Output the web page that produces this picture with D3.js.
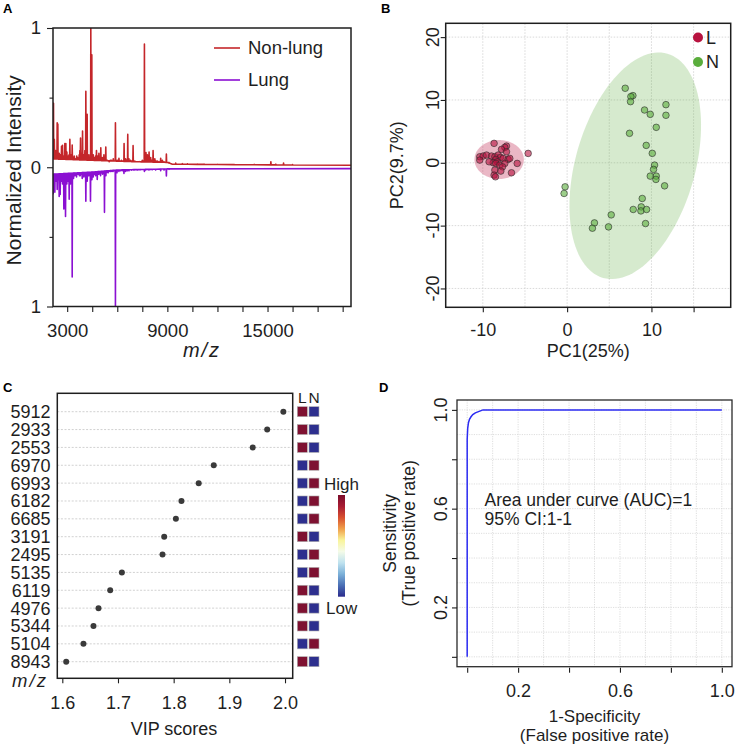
<!DOCTYPE html>
<html><head><meta charset="utf-8">
<script src="https://cdn.jsdelivr.net/npm/d3@7"></script>
<style>
body{margin:0;background:#fff;}
svg{display:block;}
</style></head><body>
<svg id="fig" width="736" height="745"></svg>
<script>
// ---------------- DATA ----------------
// Panel A: mass spectra, peaks as [m/z, normalized intensity]
const nonLungPeaks = [[2180,0.46],[2230,0.2],[2300,0.12],[2340,0.08],[2400,0.32],[2440,0.31],[2480,0.09],[2520,0.1],[2580,0.09],[2620,0.07],[2660,0.15],[2720,0.157],[2760,0.08],[2800,0.08],[2860,0.17],[2920,0.17],[2980,0.11],[3020,0.07],[3060,0.08],[3110,0.09],[3160,0.2],[3230,0.09],[3300,0.16],[3360,0.07],[3420,0.08],[3470,0.06],[3520,0.06],[3570,0.08],[3620,0.07],[3670,0.06],[3720,0.09],[3760,0.12],[3800,0.21],[3870,0.1],[3920,0.26],[3960,0.08],[4000,0.09],[4060,0.12],[4117,0.545],[4196,0.38],[4250,0.07],[4300,0.09],[4350,0.06],[4415,1.0],[4475,0.807],[4520,0.07],[4560,0.09],[4610,0.06],[4650,0.07],[4700,0.08],[4754,0.12],[4790,0.07],[4830,0.08],[4900,0.1],[4950,0.06],[5013,0.14],[5060,0.06],[5100,0.07],[5150,0.06],[5200,0.09],[5260,0.07],[5312,0.145],[5360,0.05],[5400,0.05],[5460,0.045],[5520,0.04],[5580,0.05],[5650,0.05],[5700,0.045],[5760,0.06],[5830,0.045],[5890,0.32],[5940,0.045],[5990,0.05],[6050,0.05],[6100,0.065],[6180,0.045],[6250,0.05],[6330,0.045],[6408,0.17],[6460,0.05],[6500,0.06],[6560,0.05],[6628,0.236],[6700,0.06],[6750,0.045],[6800,0.05],[6870,0.045],[6947,0.155],[7000,0.045],[7050,0.045],[7120,0.04],[7200,0.04],[7280,0.04],[7350,0.04],[7430,0.04],[7500,0.05],[7560,0.045],[7626,0.884],[7680,0.06],[7720,0.105],[7760,0.07],[7805,0.09],[7850,0.06],[7905,0.11],[7950,0.06],[8000,0.07],[8070,0.05],[8145,0.12],[8200,0.05],[8250,0.06],[8320,0.045],[8400,0.045],[8500,0.04],[8600,0.065],[8700,0.05],[8800,0.04],[8941,0.095],[9100,0.035],[9500,0.03],[9900,0.026],[10200,0.025],[10800,0.023],[11200,0.022],[12000,0.021],[13000,0.02],[14200,0.02],[15200,0.04],[15500,0.022],[15960,0.03],[16500,0.02]];
const nonLungBase = [[2150,0.06],[4500,0.05],[7000,0.04],[9000,0.035],[9300,0.022],[14000,0.018],[20000,0.014]];
const lungPeaks = [[2160,0.19],[2200,0.12],[2260,0.18],[2330,0.1],[2400,0.16],[2460,0.09],[2520,0.21],[2580,0.196],[2650,0.1],[2720,0.12],[2760,0.07],[2800,0.30],[2860,0.15],[2900,0.353],[2980,0.12],[3020,0.08],[3060,0.1],[3120,0.23],[3200,0.12],[3250,0.08],[3300,0.788],[3380,0.08],[3420,0.06],[3460,0.06],[3510,0.05],[3560,0.07],[3620,0.05],[3680,0.05],[3730,0.06],[3780,0.06],[3840,0.05],[3900,0.08],[3950,0.06],[4000,0.07],[4060,0.06],[4117,0.244],[4160,0.07],[4200,0.1],[4250,0.06],[4300,0.06],[4350,0.05],[4395,0.244],[4440,0.06],[4480,0.09],[4520,0.05],[4560,0.07],[4620,0.05],[4700,0.06],[4750,0.05],[4800,0.087],[4850,0.05],[4900,0.05],[4950,0.04],[5000,0.06],[5060,0.04],[5120,0.05],[5180,0.04],[5233,0.324],[5280,0.04],[5320,0.06],[5380,0.035],[5450,0.04],[5520,0.03],[5600,0.03],[5680,0.03],[5750,0.03],[5820,0.025],[5890,1.0],[5980,0.04],[6040,0.025],[6100,0.03],[6200,0.025],[6300,0.025],[6400,0.045],[6500,0.03],[6600,0.025],[6700,0.025],[6850,0.02],[7000,0.02],[7200,0.02],[7400,0.018],[7626,0.03],[7700,0.02],[7900,0.02],[8100,0.018],[8300,0.02],[8600,0.025],[8800,0.02],[8941,0.063],[9100,0.015]];
const lungBase = [[2150,-0.05],[4500,-0.035],[6000,-0.02],[9000,-0.012],[20000,-0.01]];
const specTicksMajor = [3000,6000,9000,12000,15000,18000];
const specTicksMinor = [4500,7500,10500,13500,16500,19500];
const specTickLabels = [3000,9000,15000];
const specSeries = ["Non-lung","Lung"];

// Panel B: PCA scores
const pcaLx = [-8.66,-7.19,-7.39,-7.78,-4.62,-10.36,-9.96,-9.56,-8.97,-8.57,-8.18,-7.9,-10.36,-8.46,-8.3,-7.59,-7.0,-6.8,-5.92,-8.77,-8.46,-7.98,-7.39,-7.66,-8.57,-7.86,-8.66,-8.5,-6.6,-9.25,-7.19];
const pcaLy = [3.09,2.66,2.45,2.13,1.49,0.96,1.07,1.23,1.07,0.96,1.23,0.86,0.43,0.54,0.16,0.7,0.54,0.7,-0.1,0.0,-0.1,-0.37,-0.1,-0.64,-1.16,-1.32,-1.96,-2.23,-1.59,0.16,1.75];
const pcaNx = [6.89,7.8,7.56,7.52,11.72,9.18,9.86,11.72,10.57,7.4,9.38,10.1,10.37,10.25,9.86,10.57,10.53,11.56,-0.24,-0.36,8.91,8.79,7.84,8.75,9.42,5.23,3.24,3.0,4.91,9.3];
const pcaNy = [11.86,10.69,10.53,9.73,9.25,8.4,7.71,7.56,5.64,4.69,2.77,1.5,-0.37,-1.05,-2.12,-2.12,-2.65,-3.67,-3.83,-4.88,-5.68,-7.02,-7.43,-7.66,-7.43,-8.29,-9.57,-10.41,-10.2,-9.67];
// confidence ellipses: center, two semi-axis vectors (data units)
const ellipseL = {c:[-8.06,0.52], u:[2.93,0], v:[0,3.1]};
const ellipseN = {c:[8.08,-0.48], u:[3.81,17.84], v:[6.81,-2.62]};
const pcaGroups = ["L","N"];
const pcaXTicks = [-10,0,10,15];
const pcaXLabels = [-10,0,10];
const pcaYTicks = [-20,-10,0,10,20];

// Panel C: VIP scores
const vipMz = ["5912","2933","2553","6970","6993","6182","6685","3191","2495","5135","6119","4976","5344","5104","8943"];
const vipScore = [1.997,1.968,1.942,1.872,1.845,1.814,1.804,1.783,1.780,1.707,1.686,1.665,1.656,1.638,1.607];
const vipL = ["H","H","H","L","L","L","L","H","L","L","H","H","H","L","H"];
const vipN = ["L","L","L","H","H","H","H","L","H","H","L","L","L","H","L"];
const vipTicks = [1.6,1.7,1.8,1.9,2.0];

// Panel D: ROC curve
const rocFpr = [0,0,0.002,0.005,0.009,0.015,0.022,0.032,0.042,0.052,0.062,1.0];
const rocTpr = [0,0.88,0.925,0.948,0.962,0.972,0.981,0.988,0.992,0.996,1.0,1.0];
const rocTicks = [0,0.2,0.4,0.6,0.8,1.0];
const rocLabels = [0.2,0.6,1.0];

// ---------------- DRAW ----------------
const FONT = "'Liberation Sans', Arial, Helvetica, sans-serif";
const INK = "#1e1e1e";
const svg = d3.select("#fig").attr("font-family", FONT);

function styleAxis(g, fs) {
  g.attr("font-family", FONT).attr("font-size", fs);
  g.select(".domain").remove();
  g.selectAll(".tick line").attr("stroke", INK).attr("stroke-width", 1.1);
  g.selectAll(".tick text").attr("fill", INK);
  return g;
}
function panelLetter(t, x, y) {
  svg.append("text").attr("x", x).attr("y", y).attr("font-size", 13).attr("font-weight", "bold").attr("fill", "#000").text(t);
}

// ===== Panel A =====
(function(){
  const P = {l:53, r:351, t:28, b:306.5};
  const x = d3.scaleLinear().domain([2150, 20000]).range([P.l, P.r]);
  const y = d3.scaleLinear().domain([-1, 1]).range([P.b, P.t]);
  const g = svg.append("g");
  g.append("clipPath").attr("id","clipA").append("rect")
    .attr("x",P.l).attr("y",P.t).attr("width",P.r-P.l).attr("height",P.b-P.t);
  function pts(peaks, knots, sign){
    const base = d3.scaleLinear().domain(knots.map(k=>k[0])).range(knots.map(k=>k[1]));
    const out = knots.map(k=>[k[0],k[1]]);
    peaks.forEach(([m,h])=>{ const b = base(m); out.push([m-14,b],[m,sign*h],[m+14,b]); });
    out.sort((a,b)=>a[0]-b[0]);
    return out;
  }
  const line = d3.line().x(d=>x(d[0])).y(d=>y(d[1]));
  const colors = {"Non-lung":"#c4262a","Lung":"#8b10d2"};
  g.append("path").attr("clip-path","url(#clipA)").attr("d", line(pts(lungPeaks, lungBase, -1)))
    .attr("fill","none").attr("stroke",colors["Lung"]).attr("stroke-width",1.6).attr("stroke-linejoin","round");
  g.append("path").attr("clip-path","url(#clipA)").attr("d", line(pts(nonLungPeaks, nonLungBase, 1)))
    .attr("fill","none").attr("stroke",colors["Non-lung"]).attr("stroke-width",1.6).attr("stroke-linejoin","round");
  g.append("rect").attr("x",P.l).attr("y",P.t).attr("width",P.r-P.l).attr("height",P.b-P.t)
    .attr("fill","none").attr("stroke",INK).attr("stroke-width",1.5);
  // axes
  styleAxis(g.append("g").attr("transform",`translate(${P.l},0)`)
    .call(d3.axisLeft(y).tickValues([-1,0,1]).tickSize(6).tickPadding(6).tickFormat(d=>Math.abs(d))), 18.5);
  styleAxis(g.append("g").attr("transform",`translate(${P.l},0)`)
    .call(d3.axisLeft(y).tickValues([-0.5,0.5]).tickSize(3.5).tickFormat("")), 18);
  styleAxis(g.append("g").attr("transform",`translate(0,${P.b})`)
    .call(d3.axisBottom(x).tickValues(specTicksMajor.concat(specTicksMinor)).tickSize(5.5).tickPadding(12)
      .tickFormat(d=>specTickLabels.includes(d)?d:"")), 18.5);
  g.append("text").attr("transform",`translate(${P.l-32},${(P.t+P.b)/2+3}) rotate(-90)`)
    .attr("text-anchor","middle").attr("font-size",21).attr("fill",INK).text("Normalized Intensity");
  g.append("text").attr("x",(P.l+P.r)/2).attr("y",357).attr("text-anchor","middle")
    .attr("font-size",20).attr("font-style","italic").attr("letter-spacing",2).attr("fill",INK).text("m/z");
  // legend
  specSeries.forEach((s,i)=>{
    const yy = 48 + i*32;
    g.append("line").attr("x1",214).attr("x2",240).attr("y1",yy).attr("y2",yy).attr("stroke",colors[s]).attr("stroke-width",1.6);
    g.append("text").attr("x",248).attr("y",yy).attr("dy","0.35em").attr("font-size",18.5).attr("fill",INK).text(s);
  });
  panelLetter("A", 3, 13);
})();

// ===== Panel B =====
(function(){
  const P = {l:445.7, r:730.7, t:23.3, b:307.3};
  const x = d3.scaleLinear().domain([-14.4, 19.4]).range([P.l, P.r]);
  const y = d3.scaleLinear().domain([-23, 22.2]).range([P.b, P.t]);
  const g = svg.append("g");
  const col = {L:"#b8123f", N:"#5aad3c"};
  // grid
  g.selectAll(".gx").data([-10,-5,0,5,10,15]).join("line")
    .attr("x1",d=>x(d)).attr("x2",d=>x(d)).attr("y1",P.t).attr("y2",P.b)
    .attr("stroke","#cfcfcf").attr("stroke-width",0.8).attr("stroke-dasharray","1.5,1.5");
  g.selectAll(".gy").data(pcaYTicks).join("line")
    .attr("x1",P.l).attr("x2",P.r).attr("y1",d=>y(d)).attr("y2",d=>y(d))
    .attr("stroke","#cfcfcf").attr("stroke-width",0.8).attr("stroke-dasharray","1.5,1.5");
  // ellipses
  function ell(e){
    const ts = d3.range(0, 361, 3).map(a=>a*Math.PI/180);
    return d3.line()(ts.map(t=>[x(e.c[0]+Math.cos(t)*e.u[0]+Math.sin(t)*e.v[0]), y(e.c[1]+Math.cos(t)*e.u[1]+Math.sin(t)*e.v[1])])) + "Z";
  }
  g.append("path").attr("d",ell(ellipseN)).attr("fill",col.N).attr("fill-opacity",0.25);
  g.append("path").attr("d",ell(ellipseL)).attr("fill",col.L).attr("fill-opacity",0.3);
  // points
  const ptsL = pcaLx.map((v,i)=>[v,pcaLy[i]]);
  const ptsN = pcaNx.map((v,i)=>[v,pcaNy[i]]);
  [[ptsN,col.N],[ptsL,col.L]].forEach(([arr,c])=>{
    g.selectAll(null).data(arr).join("circle")
      .attr("cx",d=>x(d[0])).attr("cy",d=>y(d[1])).attr("r",3.3)
      .attr("fill",c).attr("fill-opacity",0.6).attr("stroke","#2a2a2a").attr("stroke-width",0.7).attr("stroke-opacity",0.85);
  });
  g.append("rect").attr("x",P.l).attr("y",P.t).attr("width",P.r-P.l).attr("height",P.b-P.t)
    .attr("fill","none").attr("stroke",INK).attr("stroke-width",1.5);
  styleAxis(g.append("g").attr("transform",`translate(0,${P.b})`)
    .call(d3.axisBottom(x).tickValues(pcaXTicks).tickSize(5).tickPadding(11)
      .tickFormat(d=>pcaXLabels.includes(d)?d:"")), 18);
  styleAxis(g.append("g").attr("transform",`translate(${P.l},0)`)
    .call(d3.axisLeft(y).tickValues(pcaYTicks).tickSize(5).tickFormat("")), 18);
  g.selectAll(".yl").data(pcaYTicks).join("text")
    .attr("transform",d=>`translate(439,${y(d)}) rotate(-90)`).attr("text-anchor","middle")
    .attr("font-size",18).attr("fill",INK).text(d=>d);
  g.append("text").attr("transform",`translate(403,${(P.t+P.b)/2}) rotate(-90)`)
    .attr("text-anchor","middle").attr("font-size",18).attr("fill",INK).text("PC2(9.7%)");
  g.append("text").attr("x",(P.l+P.r)/2).attr("y",357).attr("text-anchor","middle")
    .attr("font-size",18).attr("fill",INK).text("PC1(25%)");
  pcaGroups.forEach((k,i)=>{
    const yy = 37.5 + i*24.5;
    g.append("circle").attr("cx",698).attr("cy",yy).attr("r",5).attr("fill",col[k]);
    g.append("text").attr("x",706).attr("y",yy).attr("dy","0.36em").attr("font-size",18).attr("fill",INK).text(k);
  });
  panelLetter("B", 381, 13);
})();

// ===== Panel C =====
(function(){
  const P = {l:57.3, r:292.7, t:393.3, b:678.3};
  const x = d3.scaleLinear().domain([1.591, 2.0138]).range([P.l, P.r]);
  const y = d3.scalePoint().domain(vipMz).range([411.7, 661.7]);
  const g = svg.append("g");
  g.selectAll(".grid").data(vipMz).join("line")
    .attr("x1",P.l).attr("x2",P.r).attr("y1",d=>y(d)).attr("y2",d=>y(d))
    .attr("stroke","#bdbdbd").attr("stroke-width",0.7).attr("stroke-dasharray","2,1.6");
  g.selectAll(".dot").data(vipMz).join("circle")
    .attr("cx",(d,i)=>x(vipScore[i])).attr("cy",d=>y(d)).attr("r",3)
    .attr("fill","#3a3a3a");
  g.append("rect").attr("x",P.l).attr("y",P.t).attr("width",P.r-P.l).attr("height",P.b-P.t)
    .attr("fill","none").attr("stroke",INK).attr("stroke-width",1.5);
  g.selectAll(".lab").data(vipMz).join("text")
    .attr("x",50.5).attr("y",d=>y(d)).attr("dy","0.36em").attr("text-anchor","end")
    .attr("font-size",18).attr("fill",INK).text(d=>d);
  g.append("text").attr("x",30).attr("y",687).attr("text-anchor","middle")
    .attr("font-size",18.5).attr("font-style","italic").attr("letter-spacing",2).attr("fill",INK).text("m/z");
  styleAxis(g.append("g").attr("transform",`translate(0,${P.b})`)
    .call(d3.axisBottom(x).tickValues(vipTicks).tickSize(5).tickPadding(13).tickFormat(d3.format(".1f"))), 18);
  g.append("text").attr("x",174).attr("y",735).attr("text-anchor","middle")
    .attr("font-size",18).attr("fill",INK).text("VIP scores");
  // heat cells
  const hc = {H:"#7e1131", L:"#2d2f8e"};
  const cols = [{k:"L", x:297.3, v:vipL},{k:"N", x:309, v:vipN}];
  cols.forEach(c=>{
    g.selectAll(null).data(vipMz).join("rect")
      .attr("x",c.x).attr("y",d=>y(d)-5).attr("width",10).attr("height",10)
      .attr("fill",(d,i)=>hc[c.v[i]]).attr("stroke","#b0b0b0").attr("stroke-width",0.6);
    g.append("text").attr("x",c.x+5).attr("y",403).attr("text-anchor","middle")
      .attr("font-size",15.5).attr("fill",INK).text(c.k);
  });
  // colour bar
  const stops = ["#7a0b2a","#a81c33","#d8502f","#f0a04a","#f9f49a","#f4fbe8","#bfe2ef","#7bb0d8","#4a6fb5","#2a2b8c"];
  const grad = svg.append("defs").append("linearGradient").attr("id","cbar").attr("x1",0).attr("x2",0).attr("y1",0).attr("y2",1);
  stops.forEach((s,i)=>grad.append("stop").attr("offset",i/(stops.length-1)).attr("stop-color",s));
  g.append("rect").attr("x",338).attr("y",495).attr("width",7).attr("height",101.7).attr("fill","url(#cbar)");
  g.append("text").attr("x",324).attr("y",490).attr("font-size",17).attr("fill",INK).text("High");
  g.append("text").attr("x",326).attr("y",614).attr("font-size",17).attr("fill",INK).text("Low");
  panelLetter("C", 3, 392);
})();

// ===== Panel D =====
(function(){
  const P = {l:457, r:732, t:400, b:666.7};
  const x = d3.scaleLinear().domain([-0.04, 1.04]).range([P.l, P.r]);
  const y = d3.scaleLinear().domain([-0.04, 1.04]).range([P.b, P.t]);
  const g = svg.append("g");
  const gv = d3.range(0, 11).map(i=>i/10);
  g.selectAll(".gx").data(gv).join("line")
    .attr("x1",d=>x(d)).attr("x2",d=>x(d)).attr("y1",P.t).attr("y2",P.b)
    .attr("stroke","#d6d6d6").attr("stroke-width",0.8).attr("stroke-dasharray","1.2,1.2");
  g.selectAll(".gy").data(gv).join("line")
    .attr("x1",P.l).attr("x2",P.r).attr("y1",d=>y(d)).attr("y2",d=>y(d))
    .attr("stroke","#d6d6d6").attr("stroke-width",0.8).attr("stroke-dasharray","1.2,1.2");
  const roc = rocFpr.map((v,i)=>[v,rocTpr[i]]);
  g.append("path").attr("d", d3.line().x(d=>x(d[0])).y(d=>y(d[1]))(roc))
    .attr("fill","none").attr("stroke","#2b2bf2").attr("stroke-width",1.5);
  g.append("rect").attr("x",P.l).attr("y",P.t).attr("width",P.r-P.l).attr("height",P.b-P.t)
    .attr("fill","none").attr("stroke","#2a2a2a").attr("stroke-width",1.3);
  styleAxis(g.append("g").attr("transform",`translate(0,${P.b+1})`)
    .call(d3.axisBottom(x).tickValues(rocTicks).tickSize(5).tickPadding(12)
      .tickFormat(d=>rocLabels.includes(d)?d3.format(".1f")(d):"")), 18);
  styleAxis(g.append("g").attr("transform",`translate(${P.l},0)`)
    .call(d3.axisLeft(y).tickValues(rocTicks).tickSize(5).tickFormat("")), 18);
  g.selectAll(".yl").data(rocLabels).join("text")
    .attr("transform",d=>`translate(447,${y(d)}) rotate(-90)`).attr("text-anchor","middle")
    .attr("font-size",18).attr("fill",INK).text(d=>d3.format(".1f")(d));
  g.append("text").attr("transform",`translate(396,${(P.t+P.b)/2}) rotate(-90)`)
    .attr("text-anchor","middle").attr("font-size",17.5).attr("fill",INK).text("Sensitivity");
  g.append("text").attr("transform",`translate(415,${(P.t+P.b)/2}) rotate(-90)`)
    .attr("text-anchor","middle").attr("font-size",17.5).attr("fill",INK).text("(True positive rate)");
  g.append("text").attr("x",(P.l+P.r)/2).attr("y",722).attr("text-anchor","middle")
    .attr("font-size",17).attr("fill",INK).text("1-Specificity");
  g.append("text").attr("x",(P.l+P.r)/2).attr("y",741).attr("text-anchor","middle")
    .attr("font-size",17).attr("fill",INK).text("(False positive rate)");
  g.append("text").attr("x",484.5).attr("y",506).attr("font-size",17.5).attr("fill",INK).text("Area under curve (AUC)=1");
  g.append("text").attr("x",484.5).attr("y",524.5).attr("font-size",17.5).attr("fill",INK).text("95% CI:1-1");
  panelLetter("D", 379, 392);
})();
</script>
</body></html>
